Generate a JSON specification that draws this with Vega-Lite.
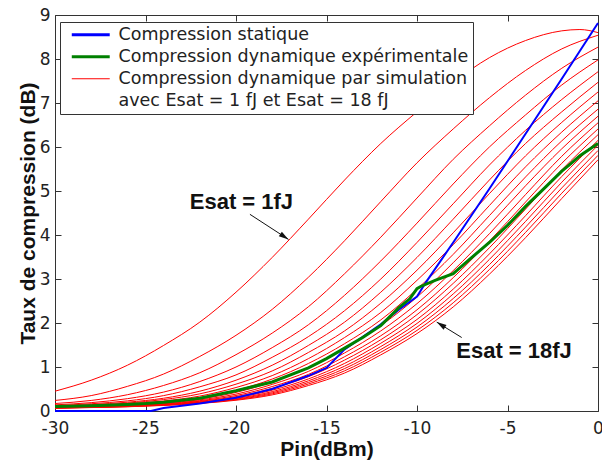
{
  "$schema": "https://vega.github.io/schema/vega-lite/v6.json",
  "width": 543,
  "height": 396,
  "autosize": {"type": "none"},
  "padding": {"left": 55, "top": 15, "right": 4, "bottom": 50},
  "background": "white",
  "config": {
    "view": {"stroke": null},
    "axis": {
      "grid": false,
      "domainColor": "#333333",
      "tickColor": "#333333",
      "domainWidth": 1,
      "tickWidth": 1,
      "tickSize": -6,
      "labelColor": "#222222",
      "labelFont": "DejaVu Sans",
      "labelFontSize": 17,
      "titleFont": "Liberation Sans",
      "titleFontWeight": "bold",
      "titleFontSize": 21,
      "titleColor": "#111111"
    },
    "legend": {
      "labelFont": "DejaVu Sans",
      "labelFontSize": 17.5,
      "labelColor": "#222222"
    }
  },
  "datasets": {
    "sim": [
      {"esat":1,"pin":-30,"taux":0.45},{"esat":1,"pin":-28,"taux":0.70},{"esat":1,"pin":-26,"taux":1.04},{"esat":1,"pin":-24,"taux":1.49},{"esat":1,"pin":-22,"taux":2.02},{"esat":1,"pin":-20,"taux":2.70},{"esat":1,"pin":-18,"taux":3.49},{"esat":1,"pin":-16,"taux":4.36},{"esat":1,"pin":-14,"taux":5.25},{"esat":1,"pin":-12,"taux":6.08},{"esat":1,"pin":-10,"taux":6.80},{"esat":1,"pin":-8,"taux":7.47},{"esat":1,"pin":-6,"taux":8.03},{"esat":1,"pin":-4,"taux":8.42},{"esat":1,"pin":-2,"taux":8.64},{"esat":1,"pin":-1,"taux":8.67},{"esat":1,"pin":0,"taux":8.60},
      {"esat":2,"pin":-30,"taux":0.24},{"esat":2,"pin":-28,"taux":0.35},{"esat":2,"pin":-26,"taux":0.56},{"esat":2,"pin":-24,"taux":0.84},{"esat":2,"pin":-22,"taux":1.24},{"esat":2,"pin":-20,"taux":1.72},{"esat":2,"pin":-18,"taux":2.31},{"esat":2,"pin":-16,"taux":3.04},{"esat":2,"pin":-14,"taux":3.87},{"esat":2,"pin":-12,"taux":4.76},{"esat":2,"pin":-10,"taux":5.64},{"esat":2,"pin":-8,"taux":6.41},{"esat":2,"pin":-6,"taux":7.12},{"esat":2,"pin":-4,"taux":7.74},{"esat":2,"pin":-2,"taux":8.23},{"esat":2,"pin":0,"taux":8.54},
      {"esat":3,"pin":-30,"taux":0.17},{"esat":3,"pin":-28,"taux":0.24},{"esat":3,"pin":-26,"taux":0.37},{"esat":3,"pin":-24,"taux":0.58},{"esat":3,"pin":-22,"taux":0.87},{"esat":3,"pin":-20,"taux":1.28},{"esat":3,"pin":-18,"taux":1.77},{"esat":3,"pin":-16,"taux":2.37},{"esat":3,"pin":-14,"taux":3.12},{"esat":3,"pin":-12,"taux":3.95},{"esat":3,"pin":-10,"taux":4.84},{"esat":3,"pin":-8,"taux":5.72},{"esat":3,"pin":-6,"taux":6.48},{"esat":3,"pin":-4,"taux":7.18},{"esat":3,"pin":-2,"taux":7.79},{"esat":3,"pin":0,"taux":8.27},
      {"esat":4,"pin":-30,"taux":0.14},{"esat":4,"pin":-28,"taux":0.19},{"esat":4,"pin":-26,"taux":0.28},{"esat":4,"pin":-24,"taux":0.43},{"esat":4,"pin":-22,"taux":0.67},{"esat":4,"pin":-20,"taux":1.00},{"esat":4,"pin":-18,"taux":1.44},{"esat":4,"pin":-16,"taux":1.96},{"esat":4,"pin":-14,"taux":2.63},{"esat":4,"pin":-12,"taux":3.41},{"esat":4,"pin":-10,"taux":4.27},{"esat":4,"pin":-8,"taux":5.16},{"esat":4,"pin":-6,"taux":6.00},{"esat":4,"pin":-4,"taux":6.73},{"esat":4,"pin":-2,"taux":7.41},{"esat":4,"pin":0,"taux":7.98},
      {"esat":5,"pin":-30,"taux":0.12},{"esat":5,"pin":-28,"taux":0.165},{"esat":5,"pin":-26,"taux":0.23},{"esat":5,"pin":-24,"taux":0.35},{"esat":5,"pin":-22,"taux":0.55},{"esat":5,"pin":-20,"taux":0.82},{"esat":5,"pin":-18,"taux":1.22},{"esat":5,"pin":-16,"taux":1.69},{"esat":5,"pin":-14,"taux":2.28},{"esat":5,"pin":-12,"taux":3.00},{"esat":5,"pin":-10,"taux":3.83},{"esat":5,"pin":-8,"taux":4.71},{"esat":5,"pin":-6,"taux":5.59},{"esat":5,"pin":-4,"taux":6.38},{"esat":5,"pin":-2,"taux":7.08},{"esat":5,"pin":0,"taux":7.71},
      {"esat":6,"pin":-30,"taux":0.107},{"esat":6,"pin":-28,"taux":0.145},{"esat":6,"pin":-26,"taux":0.20},{"esat":6,"pin":-24,"taux":0.29},{"esat":6,"pin":-22,"taux":0.45},{"esat":6,"pin":-20,"taux":0.70},{"esat":6,"pin":-18,"taux":1.04},{"esat":6,"pin":-16,"taux":1.49},{"esat":6,"pin":-14,"taux":2.02},{"esat":6,"pin":-12,"taux":2.70},{"esat":6,"pin":-10,"taux":3.49},{"esat":6,"pin":-8,"taux":4.36},{"esat":6,"pin":-6,"taux":5.25},{"esat":6,"pin":-4,"taux":6.08},{"esat":6,"pin":-2,"taux":6.80},{"esat":6,"pin":0,"taux":7.47},
      {"esat":7,"pin":-30,"taux":0.10},{"esat":7,"pin":-28,"taux":0.13},{"esat":7,"pin":-26,"taux":0.18},{"esat":7,"pin":-24,"taux":0.26},{"esat":7,"pin":-22,"taux":0.39},{"esat":7,"pin":-20,"taux":0.61},{"esat":7,"pin":-18,"taux":0.91},{"esat":7,"pin":-16,"taux":1.33},{"esat":7,"pin":-14,"taux":1.82},{"esat":7,"pin":-12,"taux":2.45},{"esat":7,"pin":-10,"taux":3.20},{"esat":7,"pin":-8,"taux":4.05},{"esat":7,"pin":-6,"taux":4.94},{"esat":7,"pin":-4,"taux":5.80},{"esat":7,"pin":-2,"taux":6.56},{"esat":7,"pin":0,"taux":7.25},
      {"esat":8,"pin":-30,"taux":0.092},{"esat":8,"pin":-28,"taux":0.119},{"esat":8,"pin":-26,"taux":0.163},{"esat":8,"pin":-24,"taux":0.228},{"esat":8,"pin":-22,"taux":0.339},{"esat":8,"pin":-20,"taux":0.534},{"esat":8,"pin":-18,"taux":0.805},{"esat":8,"pin":-16,"taux":1.19},{"esat":8,"pin":-14,"taux":1.67},{"esat":8,"pin":-12,"taux":2.24},{"esat":8,"pin":-10,"taux":2.97},{"esat":8,"pin":-8,"taux":3.78},{"esat":8,"pin":-6,"taux":4.67},{"esat":8,"pin":-4,"taux":5.55},{"esat":8,"pin":-2,"taux":6.34},{"esat":8,"pin":0,"taux":7.05},
      {"esat":9,"pin":-30,"taux":0.087},{"esat":9,"pin":-28,"taux":0.110},{"esat":9,"pin":-26,"taux":0.149},{"esat":9,"pin":-24,"taux":0.207},{"esat":9,"pin":-22,"taux":0.302},{"esat":9,"pin":-20,"taux":0.47},{"esat":9,"pin":-18,"taux":0.726},{"esat":9,"pin":-16,"taux":1.08},{"esat":9,"pin":-14,"taux":1.53},{"esat":9,"pin":-12,"taux":2.07},{"esat":9,"pin":-10,"taux":2.77},{"esat":9,"pin":-8,"taux":3.56},{"esat":9,"pin":-6,"taux":4.44},{"esat":9,"pin":-4,"taux":5.32},{"esat":9,"pin":-2,"taux":6.14},{"esat":9,"pin":0,"taux":6.86},
      {"esat":10,"pin":-30,"taux":0.083},{"esat":10,"pin":-28,"taux":0.103},{"esat":10,"pin":-26,"taux":0.139},{"esat":10,"pin":-24,"taux":0.191},{"esat":10,"pin":-22,"taux":0.275},{"esat":10,"pin":-20,"taux":0.423},{"esat":10,"pin":-18,"taux":0.661},{"esat":10,"pin":-16,"taux":0.983},{"esat":10,"pin":-14,"taux":1.42},{"esat":10,"pin":-12,"taux":1.94},{"esat":10,"pin":-10,"taux":2.59},{"esat":10,"pin":-8,"taux":3.37},{"esat":10,"pin":-6,"taux":4.23},{"esat":10,"pin":-4,"taux":5.12},{"esat":10,"pin":-2,"taux":5.96},{"esat":10,"pin":0,"taux":6.70},
      {"esat":11,"pin":-30,"taux":0.079},{"esat":11,"pin":-28,"taux":0.098},{"esat":11,"pin":-26,"taux":0.130},{"esat":11,"pin":-24,"taux":0.178},{"esat":11,"pin":-22,"taux":0.254},{"esat":11,"pin":-20,"taux":0.384},{"esat":11,"pin":-18,"taux":0.605},{"esat":11,"pin":-16,"taux":0.90},{"esat":11,"pin":-14,"taux":1.32},{"esat":11,"pin":-12,"taux":1.82},{"esat":11,"pin":-10,"taux":2.44},{"esat":11,"pin":-8,"taux":3.19},{"esat":11,"pin":-6,"taux":4.03},{"esat":11,"pin":-4,"taux":4.92},{"esat":11,"pin":-2,"taux":5.79},{"esat":11,"pin":0,"taux":6.55},
      {"esat":12,"pin":-30,"taux":0.076},{"esat":12,"pin":-28,"taux":0.094},{"esat":12,"pin":-26,"taux":0.122},{"esat":12,"pin":-24,"taux":0.167},{"esat":12,"pin":-22,"taux":0.235},{"esat":12,"pin":-20,"taux":0.352},{"esat":12,"pin":-18,"taux":0.556},{"esat":12,"pin":-16,"taux":0.832},{"esat":12,"pin":-14,"taux":1.234},{"esat":12,"pin":-12,"taux":1.71},{"esat":12,"pin":-10,"taux":2.30},{"esat":12,"pin":-8,"taux":3.03},{"esat":12,"pin":-6,"taux":3.86},{"esat":12,"pin":-4,"taux":4.75},{"esat":12,"pin":-2,"taux":5.63},{"esat":12,"pin":0,"taux":6.41},
      {"esat":13,"pin":-30,"taux":0.074},{"esat":13,"pin":-28,"taux":0.090},{"esat":13,"pin":-26,"taux":0.116},{"esat":13,"pin":-24,"taux":0.158},{"esat":13,"pin":-22,"taux":0.221},{"esat":13,"pin":-20,"taux":0.327},{"esat":13,"pin":-18,"taux":0.514},{"esat":13,"pin":-16,"taux":0.78},{"esat":13,"pin":-14,"taux":1.157},{"esat":13,"pin":-12,"taux":1.62},{"esat":13,"pin":-10,"taux":2.19},{"esat":13,"pin":-8,"taux":2.90},{"esat":13,"pin":-6,"taux":3.71},{"esat":13,"pin":-4,"taux":4.59},{"esat":13,"pin":-2,"taux":5.48},{"esat":13,"pin":0,"taux":6.28},
      {"esat":14,"pin":-30,"taux":0.071},{"esat":14,"pin":-28,"taux":0.087},{"esat":14,"pin":-26,"taux":0.110},{"esat":14,"pin":-24,"taux":0.150},{"esat":14,"pin":-22,"taux":0.208},{"esat":14,"pin":-20,"taux":0.303},{"esat":14,"pin":-18,"taux":0.473},{"esat":14,"pin":-16,"taux":0.729},{"esat":14,"pin":-14,"taux":1.082},{"esat":14,"pin":-12,"taux":1.54},{"esat":14,"pin":-10,"taux":2.08},{"esat":14,"pin":-8,"taux":2.77},{"esat":14,"pin":-6,"taux":3.57},{"esat":14,"pin":-4,"taux":4.44},{"esat":14,"pin":-2,"taux":5.33},{"esat":14,"pin":0,"taux":6.15},
      {"esat":15,"pin":-30,"taux":0.069},{"esat":15,"pin":-28,"taux":0.084},{"esat":15,"pin":-26,"taux":0.106},{"esat":15,"pin":-24,"taux":0.143},{"esat":15,"pin":-22,"taux":0.197},{"esat":15,"pin":-20,"taux":0.285},{"esat":15,"pin":-18,"taux":0.44},{"esat":15,"pin":-16,"taux":0.686},{"esat":15,"pin":-14,"taux":1.019},{"esat":15,"pin":-12,"taux":1.465},{"esat":15,"pin":-10,"taux":1.99},{"esat":15,"pin":-8,"taux":2.66},{"esat":15,"pin":-6,"taux":3.445},{"esat":15,"pin":-4,"taux":4.31},{"esat":15,"pin":-2,"taux":5.20},{"esat":15,"pin":0,"taux":6.04},
      {"esat":16,"pin":-30,"taux":0.068},{"esat":16,"pin":-28,"taux":0.082},{"esat":16,"pin":-26,"taux":0.102},{"esat":16,"pin":-24,"taux":0.137},{"esat":16,"pin":-22,"taux":0.188},{"esat":16,"pin":-20,"taux":0.27},{"esat":16,"pin":-18,"taux":0.414},{"esat":16,"pin":-16,"taux":0.648},{"esat":16,"pin":-14,"taux":0.964},{"esat":16,"pin":-12,"taux":1.398},{"esat":16,"pin":-10,"taux":1.908},{"esat":16,"pin":-8,"taux":2.556},{"esat":16,"pin":-6,"taux":3.326},{"esat":16,"pin":-4,"taux":4.18},{"esat":16,"pin":-2,"taux":5.07},{"esat":16,"pin":0,"taux":5.92},
      {"esat":17,"pin":-30,"taux":0.067},{"esat":17,"pin":-28,"taux":0.080},{"esat":17,"pin":-26,"taux":0.099},{"esat":17,"pin":-24,"taux":0.131},{"esat":17,"pin":-22,"taux":0.180},{"esat":17,"pin":-20,"taux":0.257},{"esat":17,"pin":-18,"taux":0.390},{"esat":17,"pin":-16,"taux":0.613},{"esat":17,"pin":-14,"taux":0.913},{"esat":17,"pin":-12,"taux":1.336},{"esat":17,"pin":-10,"taux":1.832},{"esat":17,"pin":-8,"taux":2.459},{"esat":17,"pin":-6,"taux":3.215},{"esat":17,"pin":-4,"taux":4.06},{"esat":17,"pin":-2,"taux":4.95},{"esat":17,"pin":0,"taux":5.81},
      {"esat":18,"pin":-30,"taux":0.065},{"esat":18,"pin":-28,"taux":0.078},{"esat":18,"pin":-26,"taux":0.096},{"esat":18,"pin":-24,"taux":0.126},{"esat":18,"pin":-22,"taux":0.172},{"esat":18,"pin":-20,"taux":0.244},{"esat":18,"pin":-18,"taux":0.366},{"esat":18,"pin":-16,"taux":0.579},{"esat":18,"pin":-14,"taux":0.863},{"esat":18,"pin":-12,"taux":1.276},{"esat":18,"pin":-10,"taux":1.76},{"esat":18,"pin":-8,"taux":2.365},{"esat":18,"pin":-6,"taux":3.109},{"esat":18,"pin":-4,"taux":3.94},{"esat":18,"pin":-2,"taux":4.83},{"esat":18,"pin":0,"taux":5.71}
    ],
    "stat": [
      {"pin":-30,"taux":0},{"pin":-27,"taux":0},{"pin":-24.7,"taux":0},{"pin":-24,"taux":0.07},{"pin":-22,"taux":0.17},{"pin":-20,"taux":0.3},{"pin":-18,"taux":0.5},{"pin":-16,"taux":0.8},{"pin":-15,"taux":0.98},{"pin":-14,"taux":1.4},{"pin":-12,"taux":1.97},{"pin":-11,"taux":2.3},{"pin":-10,"taux":2.6},{"pin":-9.5,"taux":2.93},{"pin":-8,"taux":3.83},{"pin":-6,"taux":5.05},{"pin":-4,"taux":6.3},{"pin":-2,"taux":7.55},{"pin":0,"taux":8.82}
    ],
    "exp": [
      {"pin":-30,"taux":0.1},{"pin":-28,"taux":0.12},{"pin":-26,"taux":0.15},{"pin":-25,"taux":0.17},{"pin":-24,"taux":0.2},{"pin":-22,"taux":0.29},{"pin":-20,"taux":0.46},{"pin":-18,"taux":0.66},{"pin":-16,"taux":0.98},{"pin":-15,"taux":1.19},{"pin":-14,"taux":1.43},{"pin":-13,"taux":1.67},{"pin":-12,"taux":1.94},{"pin":-11,"taux":2.35},{"pin":-10.4,"taux":2.55},{"pin":-10,"taux":2.78},{"pin":-9.8,"taux":2.83},{"pin":-9,"taux":2.97},{"pin":-8,"taux":3.12},{"pin":-7,"taux":3.48},{"pin":-6,"taux":3.83},{"pin":-5,"taux":4.22},{"pin":-4,"taux":4.65},{"pin":-3,"taux":5.05},{"pin":-2,"taux":5.45},{"pin":-1.5,"taux":5.62},{"pin":-1,"taux":5.8},{"pin":0,"taux":6.08}
    ],
    "notes": [
      {"label":"Esat = 1fJ","pin":-19.7,"taux":4.58},
      {"label":"Esat = 18fJ","pin":-4.64,"taux":1.21}
    ],
    "arrows": [
      {"label":"Esat = 1fJ","pin":-19.23,"taux":4.47,"pin2":-17.1,"taux2":3.9},
      {"label":"Esat = 18fJ","pin":-7.53,"taux":1.67,"pin2":-8.91,"taux2":2.02}
    ]
  },
  "resolve": {"axis": {"x": "independent", "y": "independent"}},
  "layer": [
    {
      "data": {"name": "sim"},
      "mark": {"type": "line", "interpolate": "monotone", "strokeWidth": 1, "clip": true},
      "encoding": {
        "x": {"field": "pin", "type": "quantitative", "scale": {"domain": [-30, 0], "nice": false, "zero": false},
          "axis": {"orient": "bottom", "values": [-30, -25, -20, -15, -10, -5, 0], "labelExpr": "datum.value < 0 ? '-' + abs(datum.value) : '' + datum.value", "labelPadding": 15, "labelFlush": false, "labelOverlap": false, "title": "Pin(dBm)", "titleY": 44, "titleBaseline": "alphabetic"}},
        "y": {"field": "taux", "type": "quantitative", "scale": {"domain": [0, 9], "nice": false},
          "axis": {"orient": "left", "values": [0, 1, 2, 3, 4, 5, 6, 7, 8, 9], "labelPadding": 11, "labelFlush": false, "labelOverlap": false, "title": "Taux de compression (dB)", "titleX": -27, "titleBaseline": "middle"}},
        "detail": {"field": "esat", "type": "nominal"},
        "color": {
          "datum": "Compression dynamique par simulation",
          "type": "nominal",
          "scale": {
            "domain": ["Compression statique", "Compression dynamique expérimentale", "Compression dynamique par simulation", "avec Esat = 1 fJ et Esat = 18 fJ"],
            "range": ["#0000ff", "#008000", "#ff0000", "rgba(0,0,0,0)"]
          },
          "legend": {
            "title": null,
            "orient": "none",
            "legendX": 5,
            "legendY": 7,
            "fillColor": "white",
            "strokeColor": "#333333",
            "padding": 4,
            "symbolType": "M-4,0H4",
            "symbolSize": 90,
            "symbolOffset": 18,
            "labelOffset": 19,
            "rowPadding": 3,
            "labelLimit": 500,
            "encode": {"symbols": {"update": {"strokeWidth": {"signal": "datum.value == 'Compression dynamique par simulation' ? 1.2 : 3"}}}}
          }
        }
      }
    },
    {
      "data": {"name": "stat"},
      "mark": {"type": "line", "strokeWidth": 2},
      "encoding": {
        "x": {"field": "pin", "type": "quantitative", "scale": {"domain": [-30, 0], "nice": false, "zero": false},
          "axis": {"orient": "top", "values": [-30, -25, -20, -15, -10, -5, 0], "labels": false, "title": null}},
        "y": {"field": "taux", "type": "quantitative", "scale": {"domain": [0, 9], "nice": false},
          "axis": {"orient": "right", "values": [0, 1, 2, 3, 4, 5, 6, 7, 8, 9], "labels": false, "title": null}},
        "color": {"datum": "Compression statique", "type": "nominal"}
      }
    },
    {
      "data": {"name": "exp"},
      "mark": {"type": "line", "strokeWidth": 3},
      "encoding": {
        "x": {"field": "pin", "type": "quantitative", "scale": {"domain": [-30, 0], "nice": false, "zero": false}, "axis": null},
        "y": {"field": "taux", "type": "quantitative", "scale": {"domain": [0, 9], "nice": false}, "axis": null},
        "color": {"datum": "Compression dynamique expérimentale", "type": "nominal"}
      }
    },
    {
      "data": {"name": "arrows"},
      "mark": {"type": "rule", "color": "#111111", "strokeWidth": 1},
      "encoding": {
        "x": {"field": "pin", "type": "quantitative", "axis": null},
        "y": {"field": "taux", "type": "quantitative", "axis": null},
        "x2": {"field": "pin2"},
        "y2": {"field": "taux2"}
      }
    },
    {
      "data": {"name": "arrows"},
      "transform": [{"filter": "datum.label == 'Esat = 1fJ'"}],
      "mark": {"type": "point", "shape": "M0,0L0.45,1.6L-0.45,1.6Z", "filled": true, "color": "#111111", "opacity": 1, "size": 150, "angle": 123.7, "strokeWidth": 0},
      "encoding": {
        "x": {"field": "pin2", "type": "quantitative", "axis": null},
        "y": {"field": "taux2", "type": "quantitative", "axis": null}
      }
    },
    {
      "data": {"name": "arrows"},
      "transform": [{"filter": "datum.label == 'Esat = 18fJ'"}],
      "mark": {"type": "point", "shape": "M0,0L0.45,1.6L-0.45,1.6Z", "filled": true, "color": "#111111", "opacity": 1, "size": 150, "angle": 302, "strokeWidth": 0},
      "encoding": {
        "x": {"field": "pin2", "type": "quantitative", "axis": null},
        "y": {"field": "taux2", "type": "quantitative", "axis": null}
      }
    },
    {
      "data": {"name": "notes"},
      "mark": {"type": "text", "font": "Liberation Sans", "fontWeight": "bold", "fontSize": 22, "align": "center", "baseline": "alphabetic", "color": "#111111"},
      "encoding": {
        "x": {"field": "pin", "type": "quantitative", "axis": null},
        "y": {"field": "taux", "type": "quantitative", "axis": null},
        "text": {"field": "label"}
      }
    }
  ]
}
